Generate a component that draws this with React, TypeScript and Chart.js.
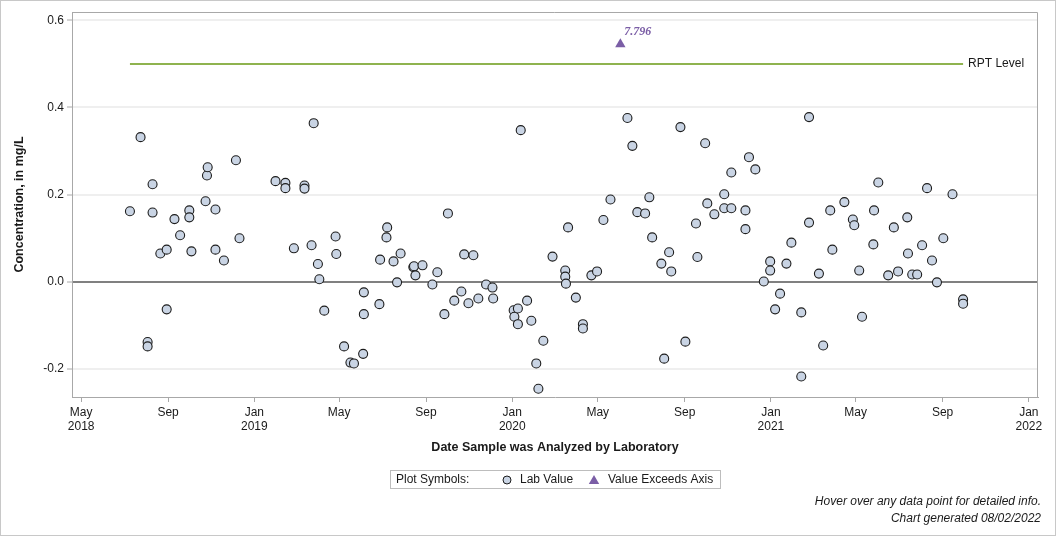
import React, { useEffect, useRef } from 'react';
import { Chart, registerables } from 'chart.js';

Chart.register(...registerables);

// ---------- data ----------
const labDates: string[] = [
  '2018-07-09', '2018-07-24', '2018-08-03', '2018-08-03', '2018-08-10', '2018-08-10', '2018-08-21', '2018-08-30',
  '2018-08-30', '2018-09-10', '2018-09-18', '2018-10-01', '2018-10-01', '2018-10-04', '2018-10-24', '2018-10-26',
  '2018-10-27', '2018-11-07', '2018-11-07', '2018-11-19', '2018-12-06', '2018-12-11', '2019-01-31', '2019-02-14',
  '2019-02-14', '2019-02-26', '2019-03-13', '2019-03-13', '2019-03-23', '2019-03-26', '2019-04-01', '2019-04-03',
  '2019-04-10', '2019-04-26', '2019-04-27', '2019-05-08', '2019-05-17', '2019-05-22', '2019-06-04', '2019-06-05',
  '2019-06-05', '2019-06-27', '2019-06-28', '2019-07-07', '2019-07-08', '2019-07-17', '2019-07-22', '2019-07-27',
  '2019-08-14', '2019-08-15', '2019-08-17', '2019-08-27', '2019-09-10', '2019-09-17', '2019-09-27', '2019-10-02',
  '2019-10-11', '2019-10-21', '2019-10-25', '2019-10-31', '2019-11-07', '2019-11-14', '2019-11-25', '2019-12-04',
  '2019-12-05', '2020-01-03', '2020-01-04', '2020-01-09', '2020-01-09', '2020-01-13', '2020-01-22', '2020-01-28',
  '2020-02-04', '2020-02-07', '2020-02-14', '2020-02-27', '2020-03-16', '2020-03-16', '2020-03-17', '2020-03-20',
  '2020-03-31', '2020-04-10', '2020-04-10', '2020-04-22', '2020-04-30', '2020-05-09', '2020-05-19', '2020-06-12',
  '2020-06-19', '2020-06-26', '2020-07-07', '2020-07-13', '2020-07-17', '2020-07-30', '2020-08-03', '2020-08-10',
  '2020-08-13', '2020-08-26', '2020-09-02', '2020-09-17', '2020-09-19', '2020-09-30', '2020-10-03', '2020-10-13',
  '2020-10-27', '2020-10-27', '2020-11-06', '2020-11-06', '2020-11-26', '2020-11-26', '2020-12-01', '2020-12-10',
  '2020-12-22', '2020-12-31', '2020-12-31', '2021-01-07', '2021-01-14', '2021-01-23', '2021-01-30', '2021-02-13',
  '2021-02-13', '2021-02-24', '2021-02-24', '2021-03-10', '2021-03-16', '2021-03-26', '2021-03-29', '2021-04-15',
  '2021-04-27', '2021-04-29', '2021-05-06', '2021-05-10', '2021-05-26', '2021-05-27', '2021-06-02', '2021-06-16',
  '2021-06-24', '2021-06-30', '2021-07-13', '2021-07-14', '2021-07-20', '2021-07-27', '2021-08-03', '2021-08-10',
  '2021-08-17', '2021-08-24', '2021-09-02', '2021-09-15', '2021-09-30', '2021-09-30',
];

const labValues: number[] = [
  0.162, 0.332, -0.138, -0.148, 0.224, 0.159, 0.065, 0.074,
  -0.063, 0.144, 0.107, 0.164, 0.148, 0.070, 0.185, 0.244,
  0.263, 0.166, 0.074, 0.049, 0.279, 0.100, 0.231, 0.227,
  0.215, 0.077, 0.221, 0.214, 0.084, 0.364, 0.041, 0.006,
  -0.066, 0.104, 0.064, -0.148, -0.185, -0.187, -0.165, -0.024,
  -0.074, -0.051, 0.051, 0.102, 0.125, 0.047, -0.001, 0.065,
  0.034, 0.036, 0.015, 0.038, -0.006, 0.022, -0.074, 0.157,
  -0.043, -0.022, 0.063, -0.049, 0.061, -0.038, -0.006, -0.013,
  -0.038, -0.065, -0.080, -0.061, -0.097, 0.348, -0.043, -0.089,
  -0.187, -0.245, -0.135, 0.058, 0.026, 0.012, -0.004, 0.125,
  -0.036, -0.097, -0.107, 0.015, 0.024, 0.142, 0.189, 0.376,
  0.312, 0.160, 0.157, 0.194, 0.102, 0.042, -0.176, 0.068,
  0.024, 0.355, -0.137, 0.134, 0.057, 0.318, 0.180, 0.155,
  0.201, 0.169, 0.169, 0.251, 0.164, 0.121, 0.286, 0.258,
  0.001, 0.047, 0.026, -0.063, -0.027, 0.042, 0.090, -0.070,
  -0.217, 0.378, 0.136, 0.019, -0.146, 0.164, 0.074, 0.183,
  0.143, 0.130, 0.026, -0.080, 0.086, 0.164, 0.228, 0.015,
  0.125, 0.024, 0.148, 0.065, 0.017, 0.017, 0.084, 0.215,
  0.049, -0.001, 0.100, 0.201, -0.040, -0.050,
];

// values above the axis maximum, shown as a triangle capped at the top of the axis
const exceedDates: string[] = ['2020-06-02'];
const exceedValues: number[] = [7.796];
const exceedCapValue = 0.545;

const rptLevel = 0.5;
const rptLabel = 'RPT Level';

const xTickDates: string[] = [
  '2018-05-01', '2018-09-01', '2019-01-01', '2019-05-01', '2019-09-01', '2020-01-01',
  '2020-05-01', '2020-09-01', '2021-01-01', '2021-05-01', '2021-09-01', '2022-01-01',
];
const xTickLabels: (string | string[])[] = [
  ['May', '2018'], 'Sep', ['Jan', '2019'], 'May', 'Sep', ['Jan', '2020'],
  'May', 'Sep', ['Jan', '2021'], 'May', 'Sep', ['Jan', '2022'],
];
const xMinDate = '2018-04-18';
const xMaxDate = '2022-01-14';

const yTicks: number[] = [-0.2, 0.0, 0.2, 0.4, 0.6];
const yMin = -0.264;
const yMax = 0.619;

const yTitle = 'Concentration, in mg/L';
const xTitle = 'Date Sample was Analyzed by Laboratory';
const legendTitle = 'Plot Symbols:';
const legendLab = 'Lab Value';
const legendExceed = 'Value Exceeds Axis';
const footer1 = 'Hover over any data point for detailed info.';
const footer2 = 'Chart generated 08/02/2022';

// ---------- helpers ----------
const dn = (s: string) => {
  const [y, m, d] = s.split('-').map(Number);
  return Date.UTC(y, m - 1, d) / 86400000;
};

const FONT = '"Liberation Sans", Arial, Helvetica, sans-serif';
const POINT_FILL = '#c9d4e4';
const POINT_BORDER = '#1c1c1c';
const PURPLE = '#7b5ea6';
const GREEN = '#8fb34f';
const FRAME = '#a8a8a8';
const TEXT = '#1a1a1a';

const extrasPlugin = {
  id: 'extras',
  beforeDatasetsDraw(chart: any) {
    const { ctx, chartArea: a } = chart;
    ctx.save();
    ctx.strokeStyle = FRAME;
    ctx.lineWidth = 1;
    ctx.beginPath();
    ctx.moveTo(a.left, a.top + 0.5);
    ctx.lineTo(a.right - 0.5, a.top + 0.5);
    ctx.lineTo(a.right - 0.5, a.bottom);
    ctx.stroke();
    ctx.restore();
  },
  afterDraw(chart: any) {
    const { ctx, chartArea: a, width, height } = chart;
    ctx.save();
    // outer frame
    ctx.strokeStyle = '#c8c8c8';
    ctx.lineWidth = 1;
    ctx.strokeRect(0.5, 0.5, width - 1, height - 3);

    // RPT label
    const rptMeta = chart.getDatasetMeta(1);
    const last = rptMeta.data[rptMeta.data.length - 1];
    ctx.fillStyle = TEXT;
    ctx.font = `12px ${FONT}`;
    ctx.textAlign = 'left';
    ctx.textBaseline = 'middle';
    ctx.fillText(rptLabel, last.x + 5, last.y);

    // exceed label
    const exMeta = chart.getDatasetMeta(2);
    exMeta.data.forEach((el: any, i: number) => {
      ctx.fillStyle = PURPLE;
      ctx.font = 'bold italic 12px "Liberation Serif", "Times New Roman", serif';
      ctx.textAlign = 'left';
      ctx.textBaseline = 'middle';
      ctx.fillText(exceedValues[i].toFixed(3), el.x + 4, el.y - 12);
    });

    // axis titles
    ctx.fillStyle = TEXT;
    ctx.font = `bold 12.5px ${FONT}`;
    ctx.textAlign = 'center';
    ctx.textBaseline = 'middle';
    ctx.fillText(xTitle, (a.left + a.right) / 2, 448);
    ctx.save();
    ctx.translate(20, (a.top + a.bottom) / 2);
    ctx.rotate(-Math.PI / 2);
    ctx.fillText(yTitle, 0, 0);
    ctx.restore();

    // legend box
    ctx.strokeStyle = '#bdbdbd';
    ctx.strokeRect(390.5, 470.5, 330, 18);
    ctx.font = `12px ${FONT}`;
    ctx.textAlign = 'left';
    ctx.fillStyle = TEXT;
    ctx.fillText(legendTitle, 396, 480);
    ctx.beginPath();
    ctx.arc(507, 480, 4, 0, Math.PI * 2);
    ctx.fillStyle = POINT_FILL;
    ctx.fill();
    ctx.strokeStyle = POINT_BORDER;
    ctx.lineWidth = 1;
    ctx.stroke();
    ctx.fillStyle = TEXT;
    ctx.fillText(legendLab, 520, 480);
    // triangle
    const tx = 594, ty = 481, r = 6;
    ctx.beginPath();
    ctx.moveTo(tx, ty - r);
    ctx.lineTo(tx + r * 0.866, ty + r / 2);
    ctx.lineTo(tx - r * 0.866, ty + r / 2);
    ctx.closePath();
    ctx.fillStyle = PURPLE;
    ctx.fill();
    ctx.fillStyle = TEXT;
    ctx.fillText(legendExceed, 608, 480);

    // footer
    ctx.font = `italic 12px ${FONT}`;
    ctx.textAlign = 'right';
    ctx.fillText(footer1, 1041, 502);
    ctx.fillText(footer2, 1041, 519);
    ctx.restore();
  },
};

export default function App() {
  const ref = useRef<HTMLCanvasElement>(null);

  useEffect(() => {
    document.body.style.margin = '0';
    if (!ref.current) return;

    const labData = labDates.map((d, i) => ({ x: dn(d), y: labValues[i] }));
    const rptData = [
      { x: dn(labDates[0]), y: rptLevel },
      { x: dn(labDates[labDates.length - 1]), y: rptLevel },
    ];
    const exceedData = exceedDates.map((d) => ({ x: dn(d), y: exceedCapValue }));

    const chart = new Chart(ref.current, {
      type: 'scatter',
      data: {
        datasets: [
          {
            label: legendLab,
            data: labData,
            pointStyle: 'circle',
            pointRadius: 4.5,
            pointBackgroundColor: POINT_FILL,
            pointBorderColor: POINT_BORDER,
            pointBorderWidth: 1.1,
            showLine: false,
          },
          {
            label: rptLabel,
            data: rptData,
            showLine: true,
            borderColor: GREEN,
            borderWidth: 2,
            pointRadius: 0,
          },
          {
            label: legendExceed,
            data: exceedData,
            pointStyle: 'triangle',
            pointRadius: 6,
            pointBackgroundColor: PURPLE,
            pointBorderWidth: 0,
            showLine: false,
          },
        ],
      },
      options: {
        responsive: false,
        animation: false,
        layout: { padding: { left: 0, right: 18, top: 12, bottom: 0 } },
        plugins: {
          legend: { display: false },
          tooltip: { enabled: false },
        },
        scales: {
          x: {
            type: 'linear',
            position: 'bottom',
            min: dn(xMinDate),
            max: dn(xMaxDate),
            afterFit: (s: any) => {
              s.height = 141;
            },
            afterBuildTicks: (s: any) => {
              s.ticks = xTickDates.map((d) => ({ value: dn(d) }));
            },
            grid: {
              drawOnChartArea: false,
              drawTicks: true,
              tickLength: 5,
              tickColor: FRAME,
            },
            border: { display: true, color: FRAME, width: 1 },
            ticks: {
              autoSkip: false,
              maxRotation: 0,
              padding: 3,
              color: TEXT,
              font: { family: FONT, size: 12 },
              callback: (_v: any, i: number) => xTickLabels[i],
            },
          },
          y: {
            type: 'linear',
            min: yMin,
            max: yMax,
            afterFit: (s: any) => {
              s.width = 72;
            },
            afterBuildTicks: (s: any) => {
              s.ticks = yTicks.map((v) => ({ value: v }));
            },
            grid: {
              color: (c: any) => (c.tick && Math.abs(c.tick.value) < 1e-9 ? '#808080' : '#efefef'),
              lineWidth: 2,
              tickColor: FRAME,
              tickWidth: 1,
              tickLength: 5,
            },
            border: { display: true, color: FRAME, width: 1 },
            ticks: {
              padding: 3,
              color: TEXT,
              font: { family: FONT, size: 12 },
              callback: (v: any) => Number(v).toFixed(1),
            },
          },
        },
      },
      plugins: [extrasPlugin],
    } as any);

    return () => chart.destroy();
  }, []);

  return (
    <div style={{ width: 1056, height: 538 }}>
      <canvas ref={ref} width={1056} height={538} style={{ display: 'block' }} />
    </div>
  );
}
